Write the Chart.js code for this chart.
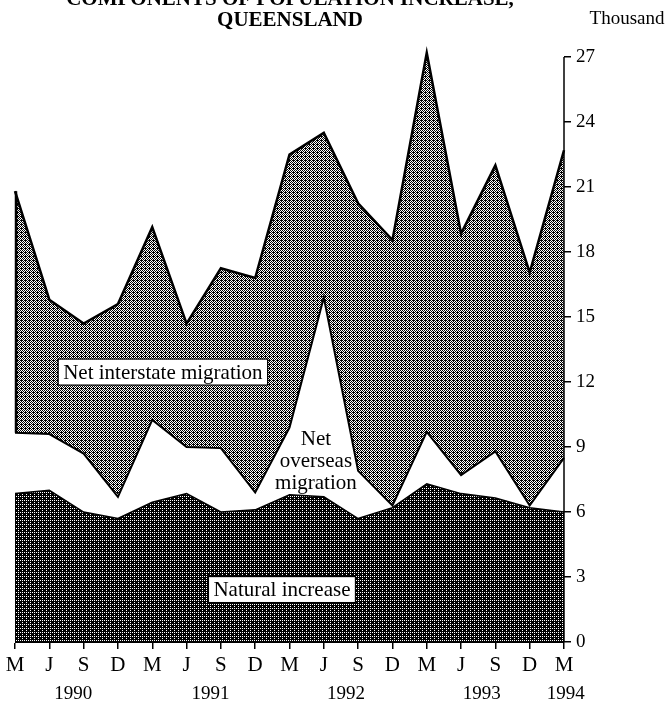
<!DOCTYPE html>
<html>
<head>
<meta charset="utf-8">
<script src="https://cdn.jsdelivr.net/npm/chart.js@4.4.1/dist/chart.umd.min.js"></script>
<style>
  html, body { margin: 0; padding: 0; background: #fff; }
  #c { display: block; }
</style>
</head>
<body>
<canvas id="c" width="667" height="704"></canvas>
<script>
// ---- Data (thousand persons per quarter) ----
const categories = ['M','J','S','D','M','J','S','D','M','J','S','D','M','J','S','D','M'];
const naturalIncrease = [6.86, 7.0, 6.0, 5.7, 6.45, 6.85, 6.0, 6.1, 6.8, 6.7, 5.7, 6.2, 7.3, 6.85, 6.65, 6.2, 6.0];
const netOverseasMigration = [2.8, 2.6, 2.7, 1.0, 3.8, 2.15, 2.95, 0.8, 3.1, 9.2, 2.2, 0.1, 2.4, 0.85, 2.15, 0.1, 2.5];
const netInterstateMigration = [11.15, 6.2, 6.0, 8.9, 8.9, 5.7, 8.3, 9.9, 12.6, 7.6, 12.35, 12.25, 17.5, 11.15, 13.2, 10.75, 14.2];
const yearLabels = ['1990', '1991', '1992', '1993', '1994'];
const yearPositions = [1.7, 5.7, 9.65, 13.6, 16.05];
const yTickValues = [0, 3, 6, 9, 12, 15, 18, 21, 24, 27];
const titleLines = ['COMPONENTS OF POPULATION INCREASE,', 'QUEENSLAND'];
const unitLabel = 'Thousand';
const seriesNames = ['Natural increase', 'Net overseas migration', 'Net interstate migration'];

// ---- Fill patterns (halftone look) ----
function makePattern(size, fn) {
  const t = document.createElement('canvas');
  t.width = size; t.height = size;
  const c = t.getContext('2d');
  const img = c.createImageData(size, size);
  for (let y = 0; y < size; y++) {
    for (let x = 0; x < size; x++) {
      const v = fn(x, y) ? 0 : 255;
      const i = (y * size + x) * 4;
      img.data[i] = v; img.data[i+1] = v; img.data[i+2] = v; img.data[i+3] = 255;
    }
  }
  c.putImageData(img, 0, 0);
  return document.getElementById('c').getContext('2d').createPattern(t, 'repeat');
}
const darkPattern = makePattern(4, (x, y) => !((x === 0 && y === 0) || (x === 2 && y === 2) || (x === 2 && y === 0)));
const hatchPattern = makePattern(4, (x, y) => ((x + y) % 2 === 0) || (x === 1 && y === 0));

const FONT = '"Liberation Serif", "Times New Roman", serif';

const decorPlugin = {
  id: 'decor',
  afterDatasetsDraw(chart) {
    const ctx = chart.ctx;
    const xs = chart.scales.x, ys = chart.scales.y;
    ctx.save();
    // left edge of the stacked area
    const topTotal = naturalIncrease[0] + netOverseasMigration[0] + netInterstateMigration[0];
    const overseasTop = naturalIncrease[0] + netOverseasMigration[0];
    ctx.strokeStyle = '#000';
    ctx.lineWidth = 2.5;
    ctx.beginPath();
    ctx.moveTo(xs.getPixelForValue(0) + 1, ys.getPixelForValue(topTotal));
    ctx.lineTo(xs.getPixelForValue(0) + 1, ys.getPixelForValue(overseasTop));
    ctx.stroke();

    // in-chart labels
    function boxLabel(text, xi, yv) {
      ctx.font = '21px ' + FONT;
      const w = ctx.measureText(text).width;
      const cx = xs.getPixelForValue(xi), cy = ys.getPixelForValue(yv);
      ctx.fillStyle = '#fff';
      ctx.fillRect(cx - w / 2 - 5, cy - 13, w + 10, 26);
      ctx.strokeStyle = '#000';
      ctx.lineWidth = 1.2;
      ctx.strokeRect(cx - w / 2 - 5, cy - 13, w + 10, 26);
      ctx.fillStyle = '#000';
      ctx.textAlign = 'center';
      ctx.textBaseline = 'middle';
      ctx.fillText(text, cx, cy + 1);
    }
    boxLabel(seriesNames[2], 4.31, 12.46);
    boxLabel(seriesNames[0], 7.78, 2.42);

    ctx.font = '21px ' + FONT;
    ctx.fillStyle = '#000';
    ctx.textAlign = 'center';
    ctx.textBaseline = 'middle';
    const ox = xs.getPixelForValue(8.77);
    const oy = ys.getPixelForValue(8.35);
    ['Net', 'overseas', 'migration'].forEach((s, i) => ctx.fillText(s, ox, oy + (i - 1) * 22));
    ctx.restore();
  },
  afterDraw(chart) {
    const ctx = chart.ctx;
    const xs = chart.scales.x, ys = chart.scales.y;
    ctx.save();
    // right axis line from 0 to top tick
    ctx.strokeStyle = '#000';
    ctx.lineWidth = 1.5;
    ctx.beginPath();
    ctx.moveTo(ys.left, ys.getPixelForValue(0));
    ctx.lineTo(ys.left, ys.getPixelForValue(yTickValues[yTickValues.length - 1]));
    ctx.stroke();

    // title
    ctx.fillStyle = '#000';
    ctx.textAlign = 'center';
    ctx.textBaseline = 'alphabetic';
    ctx.font = 'bold 21px ' + FONT;
    ctx.fillText(titleLines[0], 290, 5);
    ctx.fillText(titleLines[1], 290, 26);
    ctx.font = '19px ' + FONT;
    ctx.fillText(unitLabel, 627, 24);

    // year labels
    ctx.font = '19px ' + FONT;
    ctx.textBaseline = 'middle';
    yearLabels.forEach((y, i) => {
      ctx.fillText(y, xs.getPixelForValue(yearPositions[i]), 694);
    });
    ctx.restore();
  }
};

new Chart(document.getElementById('c'), {
  type: 'line',
  data: {
    labels: categories,
    datasets: [
      {
        label: seriesNames[0],
        data: naturalIncrease,
        fill: 'origin',
        backgroundColor: darkPattern,
        borderColor: '#000',
        borderWidth: 1.5,
        pointRadius: 0,
        tension: 0,
        clip: 12
      },
      {
        label: seriesNames[1],
        data: netOverseasMigration,
        fill: '-1',
        backgroundColor: '#ffffff',
        borderColor: '#000',
        borderWidth: 2,
        pointRadius: 0,
        tension: 0,
        clip: 12
      },
      {
        label: seriesNames[2],
        data: netInterstateMigration,
        fill: '-1',
        backgroundColor: hatchPattern,
        borderColor: '#000',
        borderWidth: 2.5,
        pointRadius: 0,
        tension: 0,
        clip: 12
      }
    ]
  },
  options: {
    responsive: false,
    animation: false,
    devicePixelRatio: 1,
    layout: { padding: { left: 15, top: 48, right: 0, bottom: 0 } },
    plugins: {
      legend: { display: false },
      tooltip: { enabled: false },
      title: { display: false }
    },
    scales: {
      x: {
        offset: false,
        grid: {
          display: true,
          drawOnChartArea: false,
          drawTicks: true,
          tickLength: 7,
          color: '#000',
          lineWidth: 1.5
        },
        border: { display: true, color: '#000', width: 1 },
        ticks: {
          color: '#000',
          font: { family: FONT, size: 21 },
          maxRotation: 0,
          autoSkip: false,
          padding: 4
        },
        afterFit(scale) { scale.height = 62; }
      },
      y: {
        position: 'right',
        stacked: true,
        min: 0,
        max: 27.42,
        grid: {
          display: true,
          drawOnChartArea: false,
          drawTicks: true,
          tickLength: 7,
          color: '#000',
          lineWidth: 1.5
        },
        border: { display: false },
        ticks: {
          color: '#000',
          font: { family: FONT, size: 19 },
          padding: 5
        },
        afterBuildTicks(scale) {
          scale.ticks = yTickValues.map(v => ({ value: v }));
        },
        afterFit(scale) { scale.width = 103; }
      }
    }
  },
  plugins: [decorPlugin]
});
</script>
</body>
</html>
